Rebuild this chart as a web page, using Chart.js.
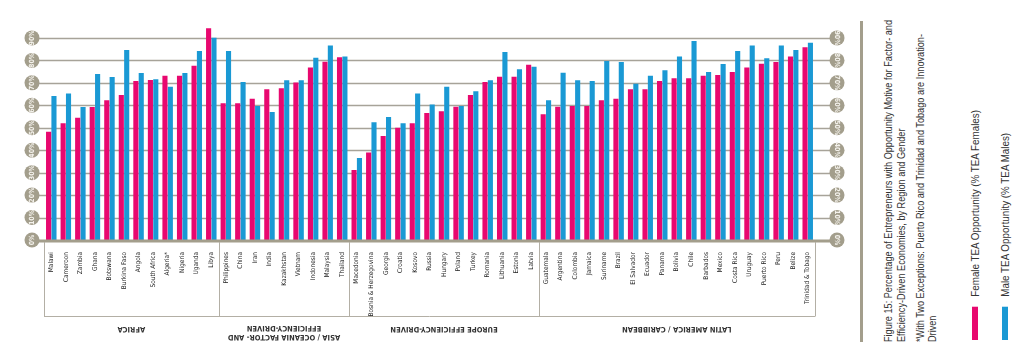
<!DOCTYPE html>
<html>
<head>
<meta charset="utf-8">
<script src="https://cdn.jsdelivr.net/npm/chart.js@4/dist/chart.umd.min.js"></script>
<style>
  html, body { margin: 0; padding: 0; background: #ffffff; }
  #wrap { position: relative; width: 1024px; height: 358px; overflow: hidden; font-family: "Liberation Sans", sans-serif; }
  #c { position: absolute; left: 0; top: 0; }
  #rule { position: absolute; left: 860px; top: 21px; width: 3px; height: 321px; background: #a39e8c; }
  .rot { position: absolute; transform-origin: 0 0; white-space: nowrap; color: #333; font-size: 11px; }
  #title { left: 882px; top: 342px; line-height: 13px; }
  #note { left: 914px; top: 342px; line-height: 12px; }
  .leg { display: flex; align-items: center; line-height: 12px; font-size: 11.8px; }
  .sw { display: inline-block; width: 40px; height: 6px; margin-right: 12px; }
</style>
</head>
<body>
<div id="wrap">
  <canvas id="c" width="860" height="358"></canvas>
  <div id="rule"></div>
  <div id="title" class="rot"><span id="t1">Figure 15: Percentage of Entrepreneurs with Opportunity Motive for Factor- and</span><br>Efficiency-Driven Economies, by Region and Gender</div>
  <div id="note" class="rot">*With Two Exceptions: Puerto Rico and Trinidad and Tobago are Innovation-<br>Driven</div>
  <div class="rot leg" style="left:969px; top:340px;"><span class="sw" style="background:#e8086f"></span>Female TEA Opportunity (% TEA Females)</div>
  <div class="rot leg" style="left:999px; top:340px;"><span class="sw" style="background:#1a99d4"></span>Male TEA Opportunity (% TEA Males)</div>
</div>
<script>
const categories = [
  "Malawi","Cameroon","Zambia","Ghana","Botswana","Burkina Faso","Angola","South Africa","Algeria*","Nigeria","Uganda","Libya",
  "Philippines","China","Iran","India","Kazakhstan","Vietnam","Indonesia","Malaysia","Thailand",
  "Macedonia","Bosnia & Herzegovina","Georgia","Croatia","Kosovo","Russia","Hungary","Poland","Turkey","Romania","Lithuania","Estonia","Latvia",
  "Guatemala","Argentina","Colombia","Jamaica","Suriname","Brazil","El Salvador","Ecuador","Panama","Bolivia","Chile","Barbados","Mexico","Costa Rica","Uruguay","Puerto Rico","Peru","Belize","Trinidad & Tobago"
];
const femaleValues = [
  48.2,52.0,54.5,59.2,62.2,64.6,70.8,71.3,73.1,73.1,77.6,94.3,
  60.9,60.9,62.9,67.1,67.6,70.2,76.8,79.4,81.4,
  31.2,39.0,46.3,50.0,52.0,56.6,57.3,59.4,64.6,70.4,72.7,72.7,78.1,
  56.0,59.4,59.7,59.7,62.2,62.9,67.1,67.1,70.8,72.0,72.0,73.1,73.5,74.8,76.8,78.5,79.3,81.7,85.8
];
const maleValues = [
  64.1,65.3,59.2,73.9,72.6,84.6,74.4,71.6,68.2,74.4,84.2,90.1,
  84.2,70.4,59.7,57.0,71.1,71.1,81.2,86.6,81.7,
  36.5,52.4,54.8,52.0,65.3,60.4,68.2,59.7,66.2,71.1,83.7,76.0,77.2,
  62.2,74.5,71.1,70.8,79.7,79.3,69.6,73.1,75.6,81.7,88.6,74.8,78.4,84.2,86.6,80.9,86.6,84.6,87.8
];
const regionNames = [["AFRICA"],["ASIA / OCEANIA FACTOR- AND","EFFICIENCY-DRIVEN"],["EUROPE EFFICIENCY-DRIVEN"],["LATIN AMERICA / CARIBBEAN"]];
const regionSizes = [12, 9, 13, 19];
const yTickValues = [0,10,20,30,40,50,60,70,80,90];
const yTickLabels = ["0%","10%","20%","30%","40%","50%","60%","70%","80%","90%"];

const PINK = "#e8086f", BLUE = "#1a99d4", KHAKI = "#a39e8c", GRID = "#a7a399";
const FONT = '"Liberation Sans", sans-serif';
const CFONT = '"DejaVu Sans Condensed", "Liberation Sans", sans-serif';

// condense rotated HTML text so that title line 1 spans 322px
(function(){
  const w = document.getElementById("t1").getBoundingClientRect().width;
  const s = 322 / w;
  document.querySelectorAll(".rot").forEach(el => { el.style.transform = "rotate(-90deg) scaleX(" + s.toFixed(3) + ")"; });
})();

const decor = {
  id: "decor",
  beforeDatasetsDraw(chart) {
    const {ctx, chartArea, scales: {y}} = chart;
    const lx = chartArea.left - 12, rx = chartArea.right + 22;
    ctx.save();
    yTickValues.forEach(v => {
      if (v === 0) return;
      const py = Math.round(y.getPixelForValue(v)) + 0.5;
      ctx.strokeStyle = GRID; ctx.lineWidth = 1.3;
      ctx.beginPath(); ctx.moveTo(lx, py); ctx.lineTo(rx, py); ctx.stroke();
    });
    ctx.restore();
  },
  afterDatasetsDraw(chart) {
    const {ctx, chartArea, scales: {x, y}} = chart;
    const lx = chartArea.left - 12, rx = chartArea.right + 22;
    ctx.save();
    const by = y.getPixelForValue(0);
    ctx.strokeStyle = KHAKI; ctx.lineWidth = 3;
    ctx.beginPath(); ctx.moveTo(lx, by + 1); ctx.lineTo(rx, by + 1); ctx.stroke();
    yTickValues.forEach((v, i) => {
      const py = y.getPixelForValue(v);
      [[lx, -Math.PI / 2], [rx, Math.PI / 2]].forEach(([cx, rot]) => {
        ctx.fillStyle = KHAKI;
        ctx.beginPath(); ctx.arc(cx, py, 7.5, 0, Math.PI * 2); ctx.fill();
        ctx.save();
        ctx.translate(cx, py); ctx.rotate(rot);
        ctx.fillStyle = "#f4f2ec";
        ctx.font = "bold 7px " + CFONT;
        ctx.textAlign = "center"; ctx.textBaseline = "middle";
        ctx.fillText(yTickLabels[i], 0, 0.5);
        ctx.restore();
      });
    });
    const boxBottom = 316.5;
    const bounds = [chartArea.left];
    let idx = 0;
    regionSizes.forEach((n, r) => {
      idx += n;
      if (r < regionSizes.length - 1) bounds.push((x.getPixelForValue(idx - 1) + x.getPixelForValue(idx)) / 2);
    });
    bounds.push(chartArea.right);
    ctx.strokeStyle = "#b3afa5"; ctx.lineWidth = 1;
    bounds.forEach(bx => {
      const px = Math.round(bx) + 0.5;
      ctx.beginPath(); ctx.moveTo(px, by + 2); ctx.lineTo(px, boxBottom); ctx.stroke();
    });
    ctx.beginPath(); ctx.moveTo(bounds[0], boxBottom); ctx.lineTo(bounds[bounds.length - 1], boxBottom); ctx.stroke();
    ctx.fillStyle = "#333";
    ctx.font = "bold 7.5px " + CFONT;
    ctx.textAlign = "center"; ctx.textBaseline = "middle";
    regionNames.forEach((lines, r) => {
      const cx = (bounds[r] + bounds[r + 1]) / 2;
      const cy = lines.length > 1 ? 332 : 329;
      ctx.save();
      ctx.translate(cx, cy); ctx.rotate(Math.PI);
      lines.forEach((t, k) => ctx.fillText(t, 0, (k - (lines.length - 1) / 2) * 9));
      ctx.restore();
    });
    ctx.restore();
  }
};

new Chart(document.getElementById("c"), {
  type: "bar",
  data: {
    labels: categories,
    datasets: [
      { label: "Female TEA Opportunity (% TEA Females)", data: femaleValues, backgroundColor: PINK, barPercentage: 0.95, categoryPercentage: 0.74 },
      { label: "Male TEA Opportunity (% TEA Males)", data: maleValues, backgroundColor: BLUE, barPercentage: 0.95, categoryPercentage: 0.74 }
    ]
  },
  options: {
    responsive: false,
    animation: false,
    layout: { padding: { left: 44, right: 45, top: 26.7, bottom: 0 } },
    plugins: { legend: { display: false }, tooltip: { enabled: false } },
    scales: {
      x: {
        grid: { display: false },
        border: { display: false },
        ticks: {
          autoSkip: false, maxRotation: 90, minRotation: 90, padding: 4,
          color: "#222", font: { family: CFONT, size: 6.5 }
        },
        afterFit(s) { s.height = 118; }
      },
      y: { display: false, min: 0, max: 95 }
    }
  },
  plugins: [decor]
});
</script>
</body>
</html>
